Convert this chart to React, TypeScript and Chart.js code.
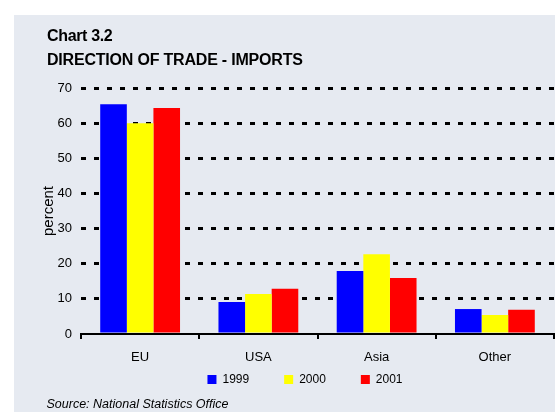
import React, { useEffect, useRef } from "react";
import { Chart, registerables } from "chart.js";

Chart.register(...registerables);

const chartTitle = "Chart 3.2";
const chartSubtitle = "DIRECTION OF TRADE - IMPORTS";
const sourceNote = "Source: National Statistics Office";
const yAxisTitle = "percent";

const categories = ["EU", "USA", "Asia", "Other"];
const seriesNames = ["1999", "2000", "2001"];
const values1999 = [65.4, 9.1, 17.9, 7.1];
const values2000 = [60.0, 11.4, 22.7, 5.4];
const values2001 = [64.3, 12.9, 15.9, 6.9];
const seriesColors = ["#0000FF", "#FFFF00", "#FF0000"];
const yMin = 0;
const yMax = 70;
const yStep = 10;

const FONT = "'Liberation Sans', Arial, Helvetica, sans-serif";
const PANEL_BG = "#E6EAF1";
const CANVAS_W = 541;
const CANVAS_H = 407;

// Moves the legend row under the plot, centred where the reference has it.
const legendPlacement = {
  id: "legendPlacement",
  afterLayout(chart: any) {
    const l = chart.legend;
    if (!l) return;
    const targetCenterX = 291;
    const targetTop = 323.5;
    const dx = targetCenterX - (l.left + l.right) / 2;
    const dy = targetTop - l.top;
    l.left += dx;
    l.right += dx;
    l.top += dy;
    l.bottom += dy;
  },
};

export default function App() {
  const canvasRef = useRef<HTMLCanvasElement | null>(null);

  useEffect(() => {
    if (!canvasRef.current) return;
    Chart.defaults.font.family = FONT;
    Chart.defaults.color = "#000";
    const seriesValues = [values1999, values2000, values2001];
    const chart = new Chart(canvasRef.current, {
      type: "bar",
      data: {
        labels: categories,
        datasets: seriesNames.map((name, i) => ({
          label: name,
          data: seriesValues[i],
          backgroundColor: seriesColors[i],
          borderWidth: 0,
          barPercentage: 1,
          categoryPercentage: 0.675,
        })),
      },
      options: {
        responsive: false,
        animation: false,
        devicePixelRatio: 1,
        layout: { padding: { top: 73, left: 0, right: 1, bottom: 0 } },
        plugins: {
          title: { display: false },
          tooltip: { enabled: false },
          legend: {
            display: true,
            position: "bottom",
            labels: {
              boxWidth: 9,
              boxHeight: 9,
              padding: 35,
              color: "#000",
              font: { size: 12, family: FONT },
            },
          },
        },
        scales: {
          x: {
            afterFit(scale: any) {
              scale.height = 31;
            },
            grid: {
              drawOnChartArea: false,
              drawTicks: true,
              tickLength: 5,
              color: "#000",
              lineWidth: 2,
              offset: true,
            },
            border: { display: true, color: "#000", width: 2 },
            ticks: { color: "#000", padding: 10.5, font: { size: 13, family: FONT } },
          },
          y: {
            min: yMin,
            max: yMax,
            afterFit(scale: any) {
              scale.width = 67;
            },
            ticks: {
              stepSize: yStep,
              padding: 9,
              color: "#000",
              font: { size: 13, family: FONT },
            },
            grid: {
              drawTicks: false,
              lineWidth: 3,
              color: (ctx: any) => (ctx.tick && ctx.tick.value === 0 ? "rgba(0,0,0,0)" : "#000"),
            },
            border: { display: false, dash: [5, 8] },
            title: {
              display: true,
              text: yAxisTitle,
              color: "#000",
              font: { size: 15, family: FONT },
              padding: { top: 25.4, bottom: 0 },
            },
          },
        },
      },
      plugins: [legendPlacement],
    });
    return () => chart.destroy();
  }, []);

  return (
    <div
      style={{
        position: "fixed",
        left: 0,
        top: 0,
        width: 555,
        height: 412,
        background: "#fff",
        overflow: "hidden",
        fontFamily: FONT,
      }}
    >
      <div
        style={{
          position: "absolute",
          left: 14,
          top: 15,
          width: 541,
          height: 397,
          background: PANEL_BG,
          overflow: "hidden",
        }}
      >
        <canvas ref={canvasRef} width={CANVAS_W} height={CANVAS_H} style={{ display: "block" }} />
      </div>
      <div
        style={{
          position: "absolute",
          left: 47,
          top: 28.2,
          fontSize: 16,
          lineHeight: "16px",
          fontWeight: "bold",
          letterSpacing: "-0.35px",
          color: "#000",
          whiteSpace: "nowrap",
        }}
      >
        {chartTitle}
      </div>
      <div
        style={{
          position: "absolute",
          left: 47,
          top: 51.5,
          fontSize: 16,
          lineHeight: "16px",
          fontWeight: "bold",
          letterSpacing: "-0.2px",
          color: "#000",
          whiteSpace: "nowrap",
        }}
      >
        {chartSubtitle}
      </div>
      <div
        style={{
          position: "absolute",
          left: 46.5,
          top: 398,
          fontSize: 12.5,
          lineHeight: "12.5px",
          fontStyle: "italic",
          color: "#000",
          whiteSpace: "nowrap",
        }}
      >
        {sourceNote}
      </div>
    </div>
  );
}
